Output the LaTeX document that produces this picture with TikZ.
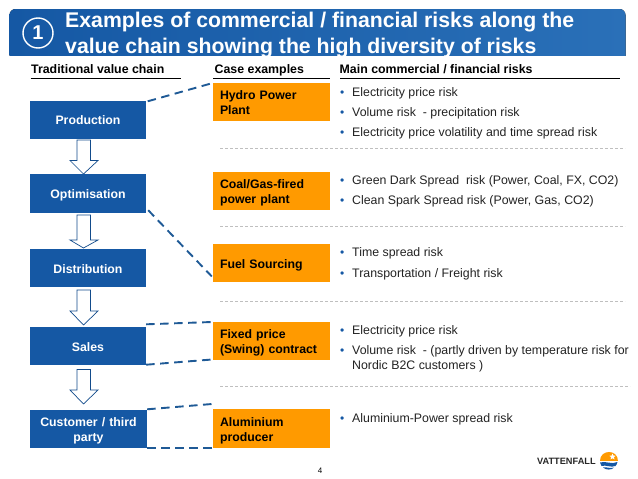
\documentclass[tikz,border=0pt]{standalone}
\usepackage{fontspec}
\setmainfont{Liberation Sans}
\definecolor{vblue}{HTML}{1558A4}
\definecolor{vbluer}{HTML}{2A70B8}
\definecolor{vorange}{HTML}{FF9A00}
\definecolor{vtext}{HTML}{222222}
\definecolor{vdash}{HTML}{1F5A96}
\tikzset{
 tall/.style={text height=#1,text depth=3pt},
 deep/.style={text height=9pt,text depth=#1},
 chain/.style={fill=vblue,text=white,minimum width=116,minimum height=38,inner sep=0,text width=112,align=center,font=\fontsize{12.3}{15}\selectfont\bfseries},
 caseb/.style={fill=vorange,text=black,minimum width=117,minimum height=38.5,inner sep=0,font=\fontsize{12.3}{15}\selectfont\bfseries,text width=103,align=left},
 head/.style={anchor=base west,inner sep=0,font=\fontsize{12.35}{14}\selectfont\bfseries,text=black},
 risk/.style={anchor=base west,inner sep=0,font=\fontsize{12.35}{15}\selectfont,text=vtext,align=left},
 bul/.style={anchor=base west,inner sep=0,font=\fontsize{12}{14}\selectfont,text=vblue},
 rule/.style={line width=0.8,black},
 sep/.style={line width=0.8,black!25,dash pattern=on 3 off 2},
 link/.style={line width=1.9,vdash,dash pattern=on 8.5 off 5.5},
 flow/.style={draw=vblue!85!black,fill=white,line width=0.7},
 titletext/.style={anchor=base west,inner sep=0,text=white,font=\fontsize{21.25}{26}\selectfont\bfseries},
}
\begin{document}
\begin{tikzpicture}[x=1pt,y=-1pt]
\useasboundingbox (0,0) rectangle (638,479);
% title band
\begin{scope}
\clip[rounded corners=6] (9.5,70) -- (9.5,9) -- (625.5,9) -- (625.5,70) -- cycle;
\clip (0,0) rectangle (638,55.5);
\fill[left color=vblue,right color=vbluer] (9,9) rectangle (626,56);
\node[titletext] (t1) at (65,27.5) {Examples of commercial / financial risks along the};
\node[titletext] (t2) at (65,53.5) {value chain showing the high diversity of risks};
\end{scope}
\node[circle,draw=white,line width=1.4,minimum size=30,inner sep=0,text=white,font=\fontsize{20}{20}\selectfont\bfseries] (num) at (38,33) {1};
% headers
\node[head] (h1) at (31,73) {Traditional value chain};
\node[head] (h2) at (214.5,73) {Case examples};
\node[head] (h3) at (339.5,73) {Main commercial / financial risks};
\draw[rule] (30.5,78.5) -- (181,78.5);
\draw[rule] (213,78.5) -- (330,78.5);
\draw[rule] (340,78.5) -- (620,78.5);
% separators
\draw[sep] (220,148) -- (625,148);
\draw[sep] (220,226.5) -- (625,226.5);
\draw[sep] (220,301.5) -- (625,301.5);
\draw[sep] (220,386.5) -- (630,386.5);
% value chain
\node[chain,tall=11pt] (prod) at (88,120) {Production};
\node[chain,minimum height=39,tall=12pt] (opt) at (88,193.5) {Optimisation};
\node[chain,tall=13pt] (dist) at (88,268) {Distribution};
\node[chain,tall=13pt] (sales) at (88,346) {Sales};
\node[chain,minimum width=117,deep=15pt] (cust) at (88.5,429) {Customer / third\\party};
% flow arrows
\foreach \t/\s/\e in {140/160.5/174,215/240/248,290/311/325,369.5/390/404}{
 \draw[flow] (77,\t) -- (90.5,\t) -- (90.5,\s) -- (98,\s) -- (83.5,\e) -- (70,\s) -- (77,\s) -- cycle;
}
% cases
\node[caseb,deep=15pt] (hydro) at (271.5,102) {Hydro Power\\Plant};
\node[caseb,deep=15pt] (coal) at (271.5,191) {Coal/Gas-fired\\power plant};
\node[caseb,tall=13pt] (fuel) at (271.5,263) {Fuel Sourcing};
\node[caseb,deep=15pt] (swing) at (271.5,341) {Fixed price\\(Swing) contract};
\node[caseb,minimum height=39,deep=14pt] (alu) at (271.5,428.5) {Aluminium\\producer};
% connectors
\coordinate (altop) at (212,404);
\coordinate (swt) at (212,322);
\coordinate (swb) at (212,359.5);
\draw[link] ([shift={(1.5,0.5)}]prod.north east) -- ([shift={(-2,1)}]hydro.north west);
\draw[link] ([shift={(2,-3)}]opt.south east) -- ([shift={(-1,-6)}]fuel.south west);
\draw[link] ([shift={(0,-2.5)}]sales.north east) -- (swt);
\draw[link] ([shift={(0,-0.5)}]sales.south east) -- (swb);
\draw[link] ([shift={(0,-0.5)}]cust.north east) -- (altop);
\draw[link] (cust.south east) -- (alu.south west);
% risks
\foreach \n/\y/\tx in {
 a/96/{Electricity price risk},
 b/116/{Volume risk\ \ - precipitation risk},
 c/136/{Electricity price volatility and time spread risk},
 d/184/{Green Dark Spread\ \ risk (Power, Coal, FX, CO2)},
 e/204/{Clean Spark Spread risk (Power, Gas, CO2)},
 f/256/{Time spread risk},
 g/277/{Transportation / Freight risk},
 h/334/{Electricity price risk},
 i/354/{Volume risk\ \ - (partly driven by temperature risk for},
 k/422/{Aluminium-Power spread risk}}{
 \node[bul] (b\n) at (340,\y) {•};
 \node[risk] (r\n) at (352,\y) {\tx};
}
\node[risk] (rj) at (352,369) {Nordic B2C customers )};
% page number
\node[inner sep=0,font=\fontsize{8}{10}\selectfont] (page) at (320,470.5) {4};
% logo
\node[anchor=base west,inner sep=0,font=\fontsize{9.2}{10}\selectfont\bfseries,text=black!85] (logo) at (537,464.5) {VATTENFALL};
\fill[vorange] (600,461) .. controls (600,449) and (617.5,449) .. (617.5,461) -- cycle;
\fill[white] (612.5,453.5) -- (613.4,455.6) -- (615.6,455.8) -- (613.9,457.2) -- (614.5,459.4) -- (612.5,458.2) -- (610.5,459.4) -- (611.1,457.2) -- (609.4,455.8) -- (611.6,455.6) -- cycle;
\fill[vblue] (600,462.5) .. controls (605,460.5) and (612,465) .. (617.5,462) .. controls (617,464) and (616.5,465) .. (615.5,466) .. controls (611,468) and (606,464.5) .. (601.5,466) -- cycle;
\fill[vblue] (603,467.5) .. controls (606,466.5) and (610,469) .. (614,467.5) .. controls (612,470) and (606,470.5) .. (603,467.5) -- cycle;
\end{tikzpicture}
\end{document}
